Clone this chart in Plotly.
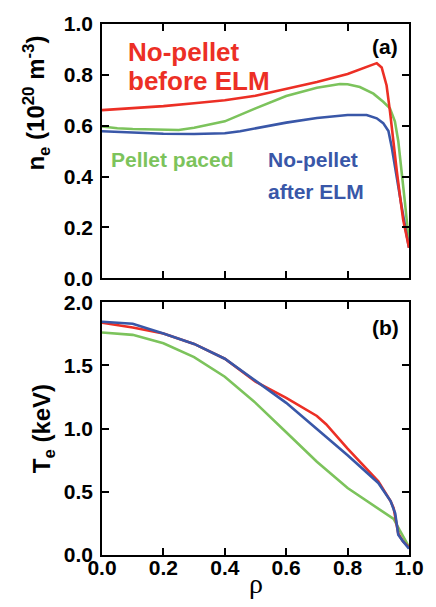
import plotly.graph_objects as go

# ---- data: panel (a) density ne (1e20 m^-3) ----
ne_red_x = [0, 0.1, 0.2, 0.3, 0.4, 0.5, 0.6, 0.7, 0.8, 0.85, 0.88, 0.895, 0.911, 0.927, 0.938, 0.949, 0.96, 0.971, 0.981, 1.0]
ne_red_y = [0.661, 0.668, 0.677, 0.688, 0.700, 0.718, 0.745, 0.772, 0.803, 0.825, 0.840, 0.846, 0.829, 0.758, 0.656, 0.526, 0.424, 0.32, 0.23, 0.12]

ne_green_x = [0, 0.05, 0.1, 0.2, 0.25, 0.3, 0.4, 0.5, 0.6, 0.7, 0.775, 0.8, 0.84, 0.884, 0.916, 0.938, 0.954, 0.965, 0.976, 0.987, 1.0]
ne_green_y = [0.597, 0.590, 0.587, 0.583, 0.583, 0.592, 0.617, 0.668, 0.717, 0.749, 0.764, 0.763, 0.752, 0.726, 0.694, 0.668, 0.617, 0.54, 0.424, 0.295, 0.14]

ne_blue_x = [0, 0.1, 0.2, 0.3, 0.4, 0.45, 0.5, 0.6, 0.7, 0.8, 0.862, 0.895, 0.916, 0.933, 0.944, 0.954, 0.965, 0.976, 0.987, 1.0]
ne_blue_y = [0.578, 0.572, 0.568, 0.567, 0.570, 0.578, 0.590, 0.612, 0.630, 0.642, 0.642, 0.629, 0.61, 0.579, 0.514, 0.436, 0.359, 0.282, 0.205, 0.12]

# ---- data: panel (b) temperature Te (keV) ----
te_red_x = [0, 0.1, 0.2, 0.3, 0.4, 0.5, 0.6, 0.7, 0.73, 0.8, 0.9, 0.94, 0.95, 0.965, 0.98, 1.0]
te_red_y = [1.838, 1.80, 1.753, 1.67, 1.553, 1.372, 1.243, 1.10, 1.035, 0.841, 0.583, 0.427, 0.37, 0.17, 0.11, 0.06]

te_blue_x = [0, 0.1, 0.2, 0.3, 0.4, 0.5, 0.6, 0.7, 0.8, 0.9, 0.94, 0.955, 0.965, 0.98, 1.0]
te_blue_y = [1.846, 1.83, 1.753, 1.67, 1.553, 1.38, 1.204, 0.997, 0.79, 0.57, 0.427, 0.33, 0.16, 0.11, 0.05]

te_green_x = [0, 0.1, 0.2, 0.3, 0.4, 0.5, 0.6, 0.7, 0.8, 0.9, 0.95, 0.97, 1.0]
te_green_y = [1.761, 1.742, 1.675, 1.566, 1.411, 1.204, 0.971, 0.738, 0.53, 0.362, 0.285, 0.194, 0.065]

RED = "#EC2F25"
GREEN = "#7CC35C"
BLUE = "#3957A8"
FONT = "Liberation Sans"

fig = go.Figure()
lw = 2.6
fig.add_trace(go.Scatter(x=ne_green_x, y=ne_green_y, mode="lines", line=dict(color=GREEN, width=lw), xaxis="x", yaxis="y"))
fig.add_trace(go.Scatter(x=ne_blue_x, y=ne_blue_y, mode="lines", line=dict(color=BLUE, width=lw), xaxis="x", yaxis="y"))
fig.add_trace(go.Scatter(x=ne_red_x, y=ne_red_y, mode="lines", line=dict(color=RED, width=lw), xaxis="x", yaxis="y"))

fig.add_trace(go.Scatter(x=te_green_x, y=te_green_y, mode="lines", line=dict(color=GREEN, width=lw), xaxis="x2", yaxis="y2"))
fig.add_trace(go.Scatter(x=te_red_x, y=te_red_y, mode="lines", line=dict(color=RED, width=lw), xaxis="x2", yaxis="y2"))
fig.add_trace(go.Scatter(x=te_blue_x, y=te_blue_y, mode="lines", line=dict(color=BLUE, width=lw), xaxis="x2", yaxis="y2"))

axis_common = dict(showgrid=False, zeroline=False, showline=True, linecolor="black", linewidth=1.5,
                   ticks="inside", ticklen=7, tickwidth=1.5, tickcolor="black", mirror="ticks",
                   tickfont=dict(family=FONT, size=21, color="black", weight="bold"))

fig.update_layout(
    width=436, height=607,
    margin=dict(l=102, r=27, t=14, b=52),
    paper_bgcolor="white", plot_bgcolor="white",
    showlegend=False,
    xaxis=dict(domain=[0, 1], range=[0, 1], dtick=0.2, showticklabels=False, anchor="y", **axis_common),
    yaxis=dict(domain=[0.5213, 1], range=[0, 1], dtick=0.2, tickformat=".1f", anchor="x", ticklabelstandoff=3, **axis_common),
    xaxis2=dict(domain=[0, 1], range=[0, 1], dtick=0.2, tickformat=".1f", anchor="y2", ticklabelstandoff=-7, **axis_common),
    yaxis2=dict(domain=[0, 0.476], range=[0, 2], dtick=0.5, tickformat=".1f", anchor="x2", ticklabelstandoff=3, **axis_common),
)

def ann(text, x, y, size, color, xref="x", yref="y", xanchor="left", angle=0, family=FONT, bold=True):
    fig.add_annotation(text=text, x=x, y=y, xref=xref, yref=yref, showarrow=False,
                       xanchor=xanchor, yanchor="middle", textangle=angle,
                       font=dict(family=family, size=size, color=color, weight="bold" if bold else "normal"))

ann("No-pellet", 0.078, 0.888, 26, RED)
ann("before ELM", 0.078, 0.776, 26, RED)
ann("Pellet paced", 0.024, 0.467, 21, GREEN)
ann("No-pellet", 0.535, 0.467, 21, BLUE)
ann("after ELM", 0.535, 0.340, 21, BLUE)
ann("(a)", 0.923, 0.911, 21, "black", xanchor="center")
ann("(b)", 0.923, 1.80, 21, "black", xref="x2", yref="y2", xanchor="center")

ann("n<sub>e</sub> (10<sup>20</sup> m<sup>-3</sup>)", -0.215, 0.852, 24, "black", xref="paper", yref="paper", xanchor="center", angle=-90)
ann("T<sub>e</sub> (keV)", -0.19, 0.238, 24, "black", xref="paper", yref="paper", xanchor="center", angle=-90)
ann("ρ", 0.5, -0.054, 28, "black", xref="paper", yref="paper", xanchor="center", family="Liberation Serif", bold=False)

fig.write_html("out.html", config={"displayModeBar": False},
               post_script="document.body.style.margin='0';document.body.style.overflow='hidden';")
